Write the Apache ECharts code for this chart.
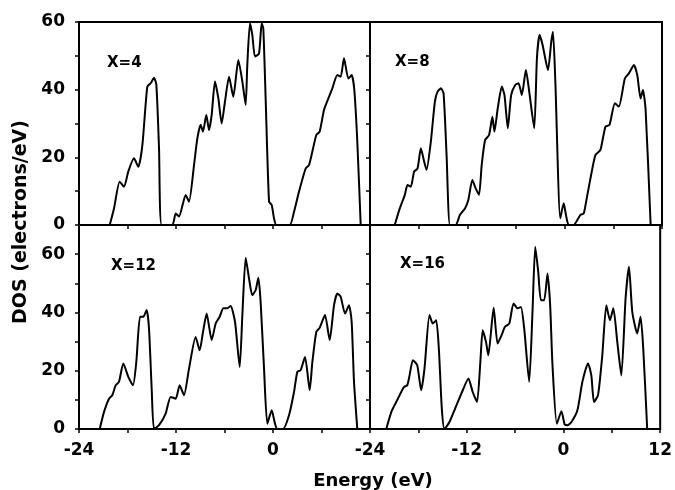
<!DOCTYPE html>
<html>
<head>
<meta charset="utf-8">
<script src="https://cdn.jsdelivr.net/npm/echarts@6/dist/echarts.min.js"></script>
<style>
  html, body { margin: 0; padding: 0; background: #fff; }
  #chart { width: 675px; height: 490px; }
</style>
</head>
<body>
<div id="chart"></div>
<script>
// DOS curves, [energy (eV), DOS (electrons/eV)]
const dosX4 = [[-20.2,0],[-19.67,4.9],[-18.97,12.8],[-18.43,11.3],[-17.9,15.8],[-17.2,19.7],[-16.66,17.2],[-16.16,23.6],[-15.55,40.9],[-15.13,41.9],[-14.72,43.5],[-14.43,41.4],[-14.1,22.7],[-13.77,0],[-12.45,0],[-12.04,3.4],[-11.63,2.5],[-10.8,8.9],[-10.39,6.9],[-9.77,17.7],[-9.36,25.6],[-8.95,29.6],[-8.66,27.6],[-8.25,32.5],[-7.92,28.1],[-7.59,32.5],[-7.18,42.4],[-6.76,37.4],[-6.35,30],[-5.94,36.5],[-5.44,43.8],[-4.91,37.9],[-4.29,48.8],[-3.79,42.4],[-3.38,35.5],[-3.18,47.3],[-2.85,59.6],[-2.56,56.2],[-2.23,49.8],[-1.73,50.7],[-1.4,59.6],[-1.2,58.1],[-0.91,37.4],[-0.49,6.9],[-0.16,5.9],[0.12,2],[0.41,0],[2.06,0],[2.6,3.9],[3.22,9.9],[4.04,16.7],[4.45,17.7],[4.87,21.7],[5.36,26.6],[5.77,27.6],[6.31,34],[6.85,37.4],[7.34,40.4],[7.96,44.3],[8.37,43.8],[8.78,49.3],[9.32,43.3],[9.73,44.3],[10.06,39.9],[10.43,24.6],[10.85,0]]
const dosX8 = [[-20.95,0],[-20.33,4.9],[-19.71,8.9],[-19.38,11.8],[-18.97,11.3],[-18.56,15.8],[-18.14,16.7],[-17.73,22.7],[-17.32,18.7],[-17.03,16.3],[-16.5,24.6],[-16,36.5],[-15.67,39.4],[-15.26,40.4],[-14.93,38.9],[-14.56,20.7],[-14.14,0],[-13.44,0],[-12.91,3],[-12.29,4.9],[-11.88,7.4],[-11.38,13.3],[-10.97,10.8],[-10.56,8.9],[-10.23,17.7],[-9.81,25.1],[-9.32,26.6],[-8.91,32],[-8.66,27.6],[-8.25,34.5],[-7.75,40.9],[-7.42,38.4],[-7.01,28.6],[-6.6,38.4],[-6.1,41.4],[-5.69,41.9],[-5.28,38.4],[-4.78,45.8],[-4.37,39.4],[-3.75,28.6],[-3.42,49.3],[-3.09,56.2],[-2.72,53.2],[-2.06,45.8],[-1.65,54.2],[-1.44,57.1],[-1.15,42.4],[-0.54,2],[-0.12,6.4],[0.16,3],[0.49,0],[1.11,0],[1.94,3],[2.35,3.4],[2.76,8.4],[3.3,15.3],[3.8,20.7],[4.41,22.2],[5.03,29.1],[5.53,29.6],[6.19,36],[6.68,35],[7.42,43.3],[7.92,44.8],[8.54,47.3],[8.95,44.3],[9.36,37.4],[9.65,39.9],[9.98,34],[10.6,0]]
const dosX12 = [[-21.44,0],[-20.91,5.8],[-20.29,10.4],[-19.88,11.6],[-19.46,15],[-19.05,16.2],[-18.52,22.5],[-17.9,17.9],[-17.32,15],[-16.91,23],[-16.45,38.5],[-16.04,38.5],[-15.63,40.8],[-15.34,34.5],[-15.01,13.9],[-14.72,0],[-14.1,1.3],[-13.28,5.3],[-12.66,11],[-12.04,10.4],[-11.55,15],[-11.01,11.6],[-10.39,20.7],[-9.57,31.6],[-9.07,27],[-8.66,33.3],[-8.21,39.6],[-7.59,30.5],[-7.09,36.2],[-6.6,38.5],[-6.14,41.4],[-5.65,41.4],[-5.24,42.2],[-4.7,36.8],[-4.12,21.3],[-3.79,39.1],[-3.38,58.8],[-2.97,51.7],[-2.56,45.9],[-2.14,47.7],[-1.81,51.9],[-1.53,43.6],[-1.11,20.7],[-0.7,1.8],[-0.16,6.4],[0.25,1.8],[0.54,0],[1.24,0],[1.98,4.7],[2.6,12.7],[3.01,19.6],[3.42,20.2],[3.96,24.7],[4.54,13.3],[4.87,23],[5.36,33.3],[5.77,34.7],[6.43,39.1],[7.01,30.5],[7.55,42.5],[7.96,46.5],[8.37,45.4],[8.91,39.6],[9.4,42.5],[9.73,36.8],[10.02,16.2],[10.43,0]]
const dosX16 = [[-21.98,0],[-21.36,5.8],[-20.74,9.3],[-20.33,11.6],[-19.79,14.4],[-19.38,15],[-19.09,18.4],[-18.68,23.6],[-18.14,21.9],[-17.65,13.3],[-17.24,20.7],[-16.62,39.1],[-16.21,36.2],[-15.79,37.3],[-15.46,27.6],[-15.09,7],[-14.76,0],[-14.14,2.4],[-13.44,7],[-12.49,13.3],[-11.79,17.3],[-11.26,12.7],[-10.72,9.3],[-10.31,23],[-10.02,33.9],[-9.61,29.9],[-9.32,25.3],[-8.66,41.6],[-8.17,29.3],[-7.67,32.2],[-7.26,35.1],[-6.72,36.2],[-6.19,43.1],[-5.69,41.4],[-5.28,41.9],[-4.87,34.5],[-4.25,16.2],[-3.84,40.2],[-3.5,62.5],[-3.13,54],[-2.8,44.2],[-2.39,44.2],[-1.98,53.4],[-1.65,42.5],[-1.36,21.9],[-0.82,1.8],[-0.25,6.1],[0.16,1.5],[0.49,1.3],[0.99,2.4],[1.73,6.4],[2.35,16.2],[3.05,22.5],[3.46,18.4],[3.79,9.3],[4.29,11.6],[4.82,25.3],[5.32,42.5],[5.77,37.3],[6.19,41.4],[6.68,29.9],[7.18,18.4],[7.71,44.8],[8.13,55.7],[8.54,40.2],[9.15,32.8],[9.57,38.5],[9.9,27.6],[10.39,0]]

const panelNames = ['X=4', 'X=8', 'X=12', 'X=16']
const panelData = [dosX4, dosX8, dosX12, dosX16]
const xMin = -24, xMax = 12
const yMaxTop = 60, yMaxBottom = 70

const chart = echarts.init(document.getElementById('chart'))
const font = 'DejaVu Sans'

// panel boxes: top-left, top-right, bottom-left, bottom-right
const boxes = [
  { left: 79, top: 22, width: 291, height: 203 },
  { left: 370, top: 22, width: 292, height: 203 },
  { left: 79, top: 225, width: 291, height: 204 },
  { left: 370, top: 225, width: 292, height: 204 }
]

const axisLine = { onZero: false, lineStyle: { color: '#000', width: 2 } }
const axisTick = { length: 4, lineStyle: { color: '#000', width: 1.5 } }
const labelStyle = { color: '#000', fontFamily: font, fontWeight: 'bold', fontSize: 17 }

let grid = [], xAxis = [], yAxis = [], series = []
boxes.forEach((b, i) => {
  let bottom = i >= 2
  let right = i % 2 === 1
  grid.push(Object.assign({ show: true, borderColor: '#000', borderWidth: 2 }, b))
  xAxis.push({
    type: 'value', gridIndex: i, min: xMin, max: xMax, interval: 6,
    axisLine, axisTick, splitLine: { show: false },
    axisLabel: Object.assign({
      show: bottom, margin: 13,
      formatter: v => (v % 12 === 0 && (right || v < 12)) ? String(v) : ''
    }, labelStyle)
  })
  yAxis.push({
    type: 'value', gridIndex: i, min: 0, max: bottom ? yMaxBottom : yMaxTop, interval: 10,
    axisLine, axisTick, splitLine: { show: false },
    axisLabel: Object.assign({
      show: !right, margin: 14,
      formatter: v => (v % 20 === 0 && v <= 60) ? String(v) : ''
    }, labelStyle)
  })
  series.push({
    type: 'line', xAxisIndex: i, yAxisIndex: i,
    data: panelData[i], showSymbol: false, smooth: 0.2, clip: true,
    lineStyle: { color: '#000', width: 2 }, silent: true
  })
})

const tagPos = [[107, 63], [395, 62], [111, 266], [400, 264]]
let graphic = panelNames.map((t, i) => ({
  type: 'text', x: tagPos[i][0], y: tagPos[i][1],
  style: { text: t, fill: '#000', font: 'bold 15px "DejaVu Sans"', verticalAlign: 'middle' }
}))
graphic.push({
  type: 'text', x: 373, y: 481,
  style: { text: 'Energy (eV)', fill: '#000', font: 'bold 18px "DejaVu Sans"', align: 'center', verticalAlign: 'middle' }
})
graphic.push({
  type: 'text', x: 21, y: 222, rotation: Math.PI / 2,
  style: { text: 'DOS (electrons/eV)', fill: '#000', font: 'bold 19px "DejaVu Sans"', align: 'center', verticalAlign: 'middle' }
})

chart.setOption({
  animation: false,
  backgroundColor: '#fff',
  grid, xAxis, yAxis, series, graphic
})
</script>
</body>
</html>
